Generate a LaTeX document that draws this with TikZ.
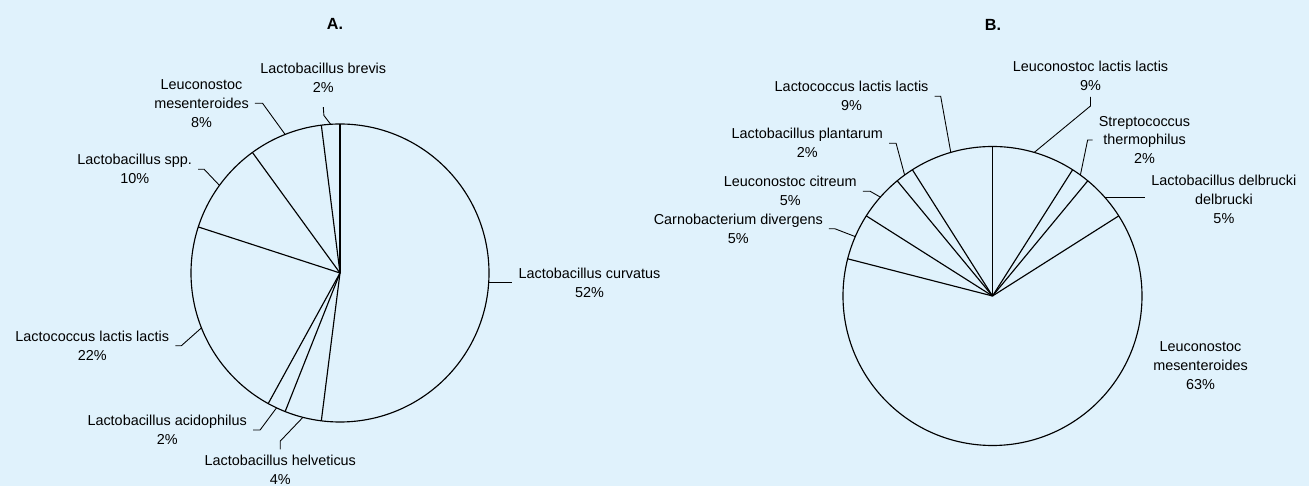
\documentclass[tikz,border=0pt]{standalone}
\usepackage{fontspec}
\setmainfont{Liberation Sans}
\begin{document}
\begin{tikzpicture}[x=0.02cm,y=0.02cm,font=\fontsize{8.2}{10.8}\selectfont,
  lab/.style={align=center},
  ttl/.style={font=\fontsize{9.2}{11}\selectfont\bfseries},
  lead/.style={line width=0.5pt},
  slice/.style={line width=0.65pt}]
  \definecolor{chartbg}{RGB}{224,242,252}
  \fill[chartbg] (0,0) rectangle (1309,486);
  \useasboundingbox (0,0) rectangle (1309,486);
  \coordinate (ca) at (340,213);
  \coordinate (cb) at (992.5,190);
  \node[ttl] (ta) at (335,462) {A.};
  \node[ttl] (tb) at (993,461) {B.};
  \draw[slice] (ca) circle[radius=149];
  \foreach \a in {90,-97.2,-111.6,-118.8,-198,-234,-262.8}
    \draw[slice] (ca) -- ++(\a:149);
  \foreach \n/\a in {aBrv/93.6,aMes/111.6,aSpp/144,aLcl/201.6,aAci/244.8,aHel/255.6,aCur/-3.6}
    \path (ca) ++(\a:149) coordinate (\n P);
  \node[lab] (aBrv) at (323.3,407.8) {Lactobacillus brevis\\2\%};
  \node[lab] (aMes) at (201.5,382.7) {Leuconostoc\\mesenteroides\\8\%};
  \node[lab] (aSpp) at (134.7,316.7) {Lactobacillus spp.\\10\%};
  \node[lab] (aLcl) at (92.2,140.2) {Lactococcus lactis lactis\\22\%};
  \node[lab] (aAci) at (167.2,56) {Lactobacillus acidophilus\\2\%};
  \node[lab] (aHel) at (280.3,15.7) {Lactobacillus helveticus\\4\%};
  \node[lab] (aCur) at (589.5,202.7) {Lactobacillus curvatus\\52\%};
  \draw[lead] (aBrv.south) ++(0,-8) -- ++(0.6,-8.3) -- (aBrvP);
  \draw[lead] (aMes.east) -- ++(7.6,0) -- (aMesP);
  \draw[lead] (aSpp.east) -- ++(6,0) -- (aSppP);
  \draw[lead] (aLcl.east) -- ++(6,0) -- (aLclP);
  \draw[lead] (aAci.east) -- ++(7,0) -- (aAciP);
  \draw[lead] (aHel.north) -- ++(0,8.3) -- (aHelP);
  \draw[lead] (aCurP) -- (aCurP -| aCur.west);
  \draw[slice] (cb) circle[radius=149.5];
  \foreach \a in {90,57.6,50.4,32.4,-194.4,-212.4,-230.4,-237.6}
    \draw[slice] (cb) -- ++(\a:149.5);
  \foreach \n/\a in {bLll/73.8,bStr/54,bDel/41.4,bLcl/106.2,bPla/126,bCit/138.6,bCar/156.6}
    \path (cb) ++(\a:149.5) coordinate (\n P);
  \node[lab] (bLll) at (1090.5,410) {Leuconostoc lactis lactis\\9\%};
  \node[lab] (bStr) at (1144.5,346) {Streptococcus\\thermophilus\\2\%};
  \node[lab] (bDel) at (1223.9,286.3) {Lactobacillus delbrucki\\delbrucki\\5\%};
  \node[lab] (bMes) at (1200.5,120.4) {Leuconostoc\\mesenteroides\\63\%};
  \node[lab] (bLcl) at (851.6,389.7) {Lactococcus lactis lactis\\9\%};
  \node[lab] (bPla) at (807.2,342.7) {Lactobacillus plantarum\\2\%};
  \node[lab] (bCit) at (790.3,294.8) {Leuconostoc citreum\\5\%};
  \node[lab] (bCar) at (738.3,257.2) {Carnobacterium divergens\\5\%};
  \draw[lead] (bLll.south) -- ++(0,-9) -- (bLllP);
  \draw[lead] (bStr.west) -- ++(-5,0) -- (bStrP);
  \draw[lead] (bDelP) -- (bDelP -| bDel.west);
  \draw[lead] (bLcl.east) -- ++(6,0) -- (bLclP);
  \draw[lead] (bPla.east) -- ++(7,0) -- (bPlaP);
  \draw[lead] (bCit.east) -- ++(7,0) -- (bCitP);
  \draw[lead] (bCar.east) -- ++(6,0) -- (bCarP);
\end{tikzpicture}
\end{document}
